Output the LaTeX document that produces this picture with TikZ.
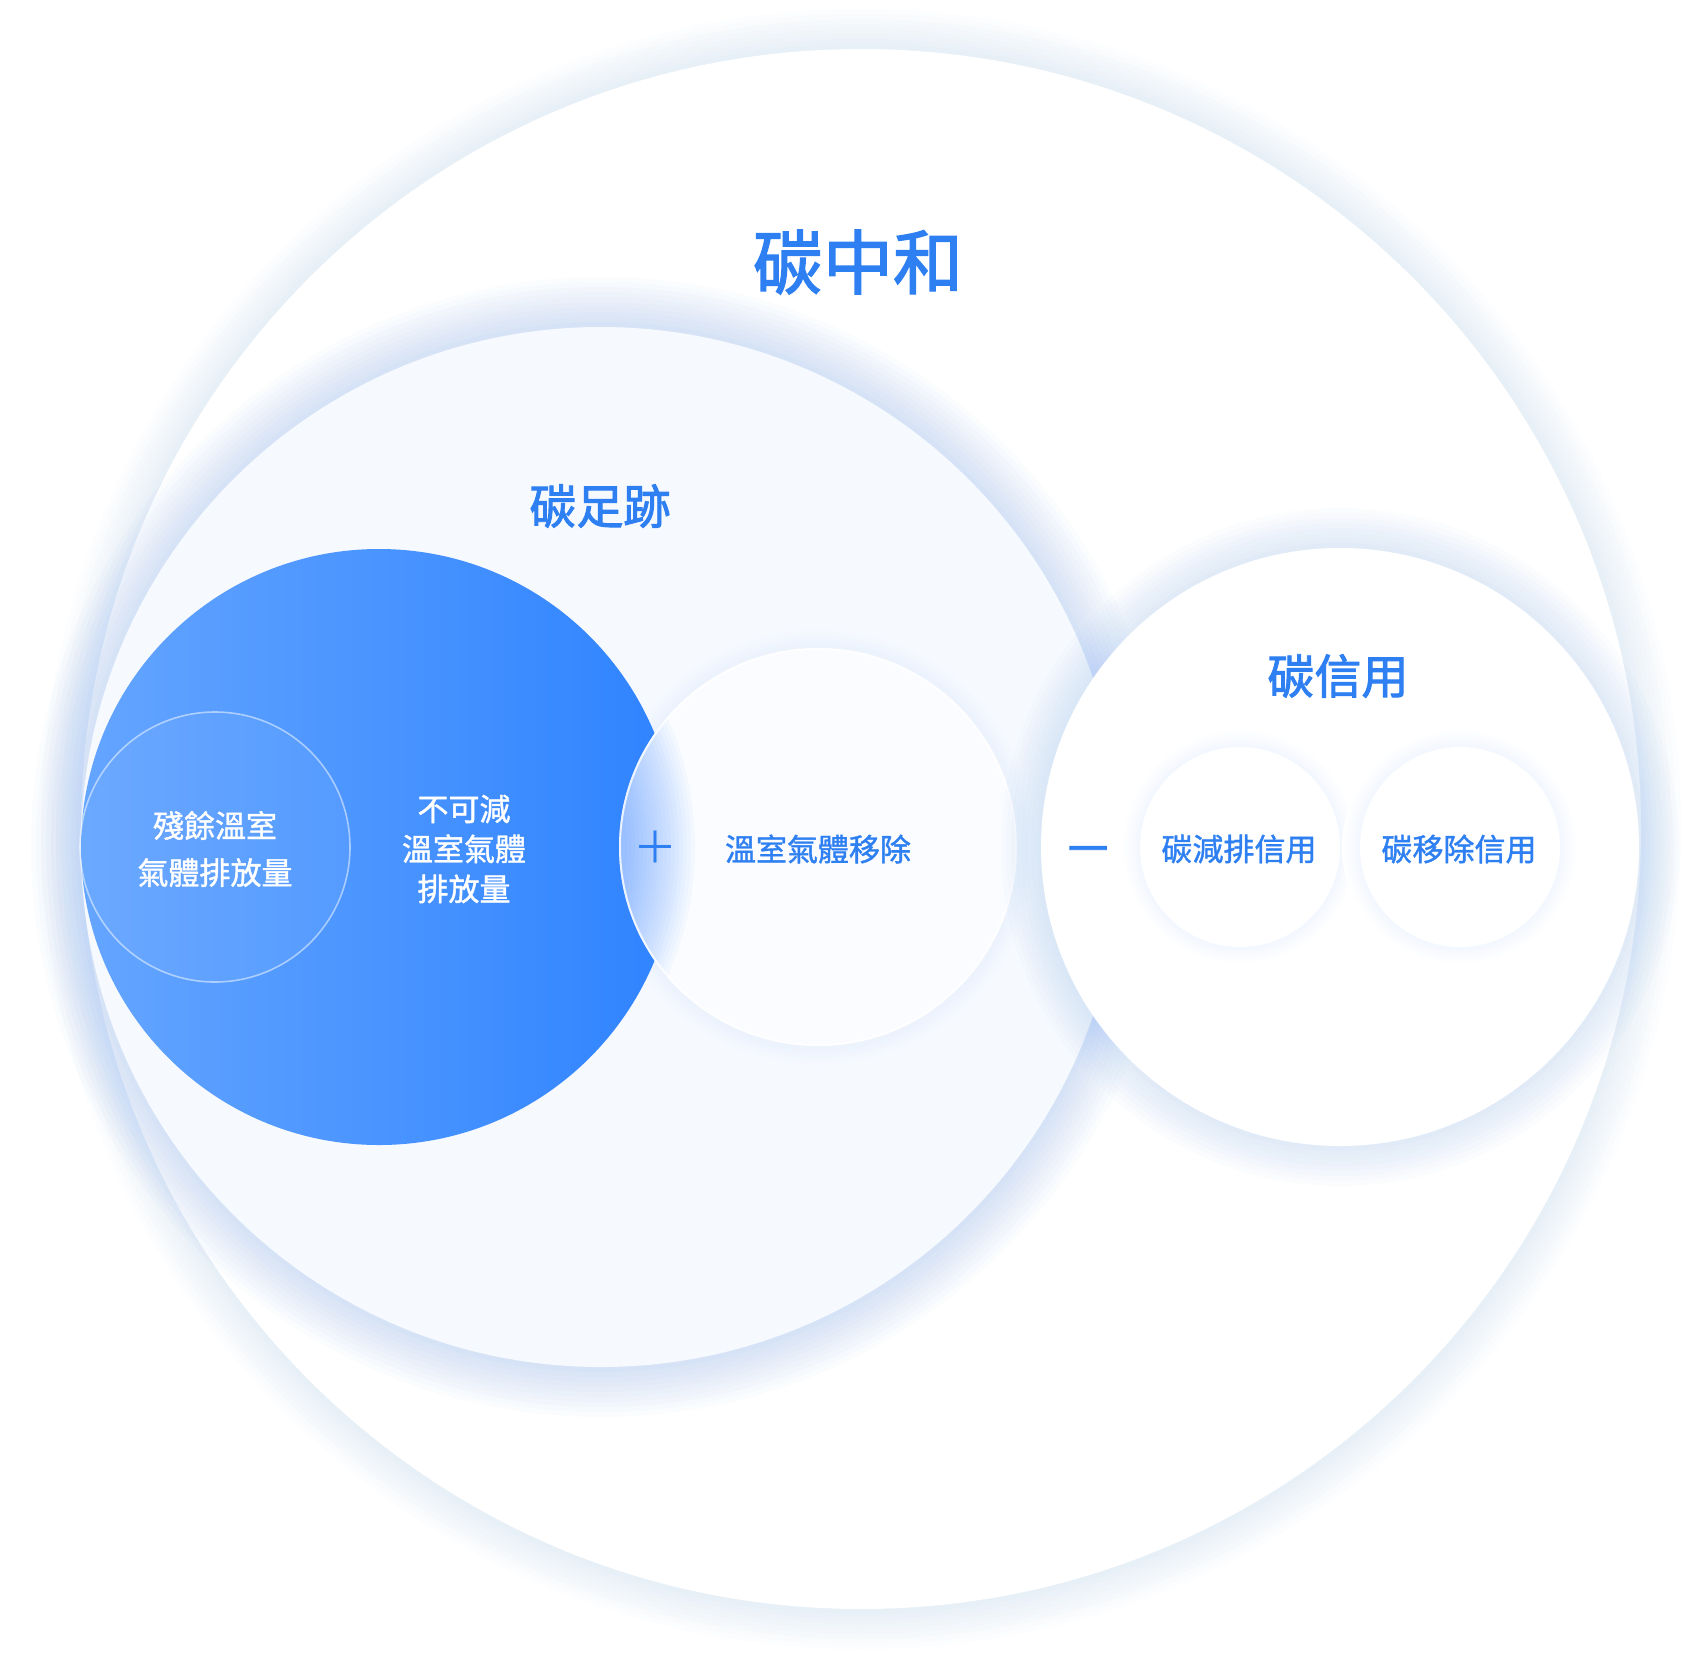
\documentclass[tikz,border=0pt]{standalone}
\usepackage{fontspec}
\newfontfamily\cjk{Noto Sans CJK TC}
\newfontfamily\cjkheavy[FakeBold=2]{Noto Sans CJK TC}
\newfontfamily\cjkmedium[FakeBold=1.2]{Noto Sans CJK TC}
\definecolor{glowBlue}{HTML}{6A9FF6}
\definecolor{footprintFill}{HTML}{F6F9FE}
\definecolor{removalFill}{HTML}{FAFCFF}
\definecolor{emitLeft}{HTML}{64A5FF}
\definecolor{emitRight}{HTML}{2F83FF}
\definecolor{labelBlue}{HTML}{2E80F2}

\begin{document}
\begin{tikzpicture}[
  x=0.5pt, y=-0.5pt,
  title label/.style={text=labelBlue, font=\cjkheavy\fontsize{35}{42}\selectfont},
  heading label/.style={text=labelBlue, font=\cjkheavy\fontsize{23.5}{28}\selectfont},
  item label/.style={text=labelBlue, font=\cjkmedium\fontsize{15.5}{20}\selectfont},
  emission label/.style={text=white, align=center, font=\cjkmedium\fontsize{15.5}{20}\selectfont},
  sign label/.style={text=labelBlue, inner sep=0pt}
]
\useasboundingbox (0,0) rectangle (1688,1656);
\fill[white] (0,0) rectangle (1688,1656);

% Carbon neutrality (outer circle)
\foreach \k in {1,...,8}
  \fill[glowBlue, opacity=0.014] (861,829) circle ({780+5*\k});
\fill[white] (861,829) circle (780);

% Carbon footprint
\foreach \k in {1,...,10}
  \fill[glowBlue, opacity=0.026] (601,847) circle ({520+5*\k});
\fill[footprintFill] (601,847) circle (520);

% halo of the removal circle, partly hidden by the blue circle
\foreach \k in {10,9,...,1} {
  \pgfmathsetmacro\mix{8*(1-\k/10)}
  \fill[glowBlue!\mix!footprintFill] (818,847) circle ({199+2*\k});
}

% Non-reducible emissions
\shade[left color=emitLeft, right color=emitRight] (379,847) circle (298);

% Residual emissions
\fill[white, fill opacity=0.05] (215,847) circle (135);
\draw[white, draw opacity=0.5, line width=0.8pt] (215,847) circle (135);

% GHG removal, frosted over the blue circle
\fill[removalFill] (818,847) circle (199);
\begin{scope}
  \clip (818,847) circle (199);
  \foreach \r in {316,312,...,232}
    \fill[emitRight, opacity=0.032] (379,847) circle (\r);
\end{scope}
\draw[white, line width=1pt, draw opacity=0.8] (818,847) circle (198);

% Carbon credits
\foreach \k in {1,...,8}
  \fill[glowBlue, opacity=0.024] (1340,847) circle ({299+5*\k});
\fill[white] (1340,847) circle (299);

\foreach \cx in {1240,1460} {
  \foreach \k in {9,8,...,1} {
    \pgfmathsetmacro\mix{9*(1-\k/9)}
    \fill[glowBlue!\mix!white] (\cx,847) circle ({100+2*\k});
  }
  \fill[white] (\cx,847) circle (100);
}

% Labels
\node[title label] (neutralTitle) at (858,262) {碳中和};
\node[heading label] (footprintTitle) at (600,506) {碳足跡};
\node[heading label] (creditTitle) at (1338,676) {碳信用};

\node[emission label, font=\cjkmedium\fontsize{15.5}{23.5}\selectfont] (residualText) at (215,849)
  {殘餘溫室\\氣體排放量};
\node[emission label] (nonReducibleText) at (464,849)
  {不可減\\溫室氣體\\排放量};
\node[item label] (removalText) at (818,849) {溫室氣體移除};
\node[item label] (reductionCreditText) at (1239,849) {碳減排信用};
\node[item label] (removalCreditText) at (1459,849) {碳移除信用};

\node[sign label, font=\cjk\fontsize{22}{24}\selectfont] (plusSign) at (655,847) {＋};
\node[sign label, font=\cjkheavy\fontsize{20}{24}\selectfont] (minusSign) at (1088,855) {一};

\end{tikzpicture}
\end{document}
